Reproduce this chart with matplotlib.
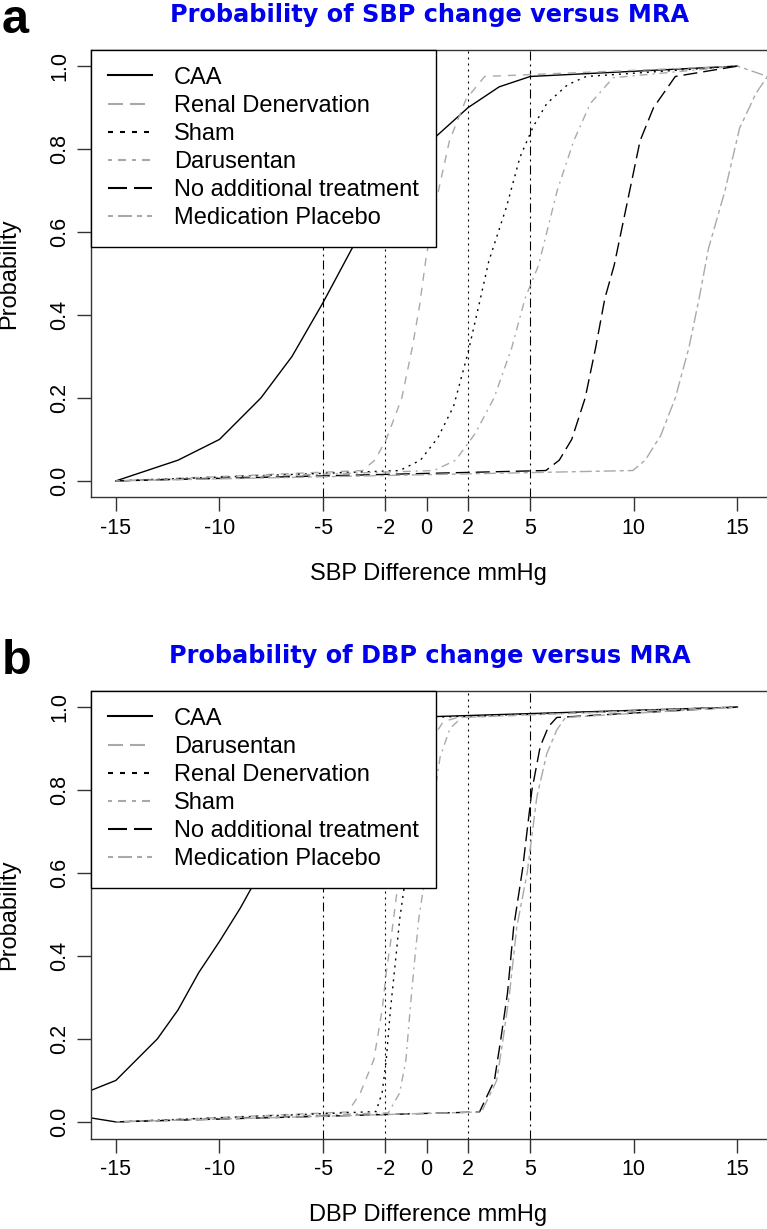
import matplotlib.pyplot as plt
from matplotlib.lines import Line2D

plt.rcParams['font.family'] = 'Liberation Sans'
plt.rcParams['lines.scale_dashes'] = False

# figure size in pixels (saved at 100 dpi)
W, H = 767, 1229

# ---------------- data ----------------
x_ticks = [-15, -10, -5, -2, 0, 2, 5, 10, 15]
y_ticks = [0.0, 0.2, 0.4, 0.6, 0.8, 1.0]
dotdash_refs = [-5, 5]
dotted_refs = [-2, 2]

sbp_title = "Probability of SBP change versus MRA"
dbp_title = "Probability of DBP change versus MRA"
sbp_names = ["CAA", "Renal Denervation", "Sham", "Darusentan",
             "No additional treatment", "Medication Placebo"]
dbp_names = ["CAA", "Darusentan", "Renal Denervation", "Sham",
             "No additional treatment", "Medication Placebo"]

# SBP panel
sbp_caa_x = [-15, -12, -10, -8, -6.5, -5, -3.5, -2, 0, 2, 3.5, 5, 15]
sbp_caa_y = [0, 0.05, 0.10, 0.20, 0.30, 0.43, 0.57, 0.70, 0.81, 0.90, 0.95, 0.975, 1.0]
sbp_renal_x = [-15, -3.1, -2.5, -1.95, -1.2, -0.7, -0.35, -0.05, 0.35, 1.1, 1.9, 2.8, 15]
sbp_renal_y = [0, 0.025, 0.05, 0.10, 0.20, 0.32, 0.42, 0.53, 0.65, 0.82, 0.92, 0.975, 1.0]
sbp_sham_x = [-15, -1.3, -0.3, 0.55, 1.3, 2.0, 2.55, 3.0, 3.85, 4.5, 5.15, 5.8, 6.8, 7.7, 15]
sbp_sham_y = [0, 0.025, 0.05, 0.105, 0.18, 0.31, 0.43, 0.53, 0.66, 0.78, 0.855, 0.91, 0.955, 0.975, 1.0]
sbp_daru_x = [-15, 0.35, 1.4, 2.35, 3.25, 4.1, 4.75, 5.4, 6.3, 7.1, 7.9, 9.0, 15]
sbp_daru_y = [0, 0.025, 0.05, 0.115, 0.20, 0.32, 0.44, 0.52, 0.70, 0.82, 0.91, 0.972, 1.0]
sbp_noadd_x = [-15, 5.75, 6.4, 7.0, 7.65, 8.15, 8.6, 9.05, 9.8, 10.3, 10.95, 12.0, 15]
sbp_noadd_y = [0, 0.025, 0.05, 0.10, 0.20, 0.32, 0.44, 0.52, 0.70, 0.82, 0.90, 0.975, 1.0]
sbp_plac_x = [-15, 9.95, 10.55, 11.3, 12.0, 12.65, 13.15, 13.6, 14.4, 15.1, 15.9, 16.45, 15]
sbp_plac_y = [0, 0.025, 0.05, 0.11, 0.20, 0.32, 0.44, 0.56, 0.70, 0.85, 0.935, 0.975, 1.0]

# DBP panel
dbp_caa_x = [-15, -17.5, -17.5, -15, -13, -12, -11, -10, -9, -8.5, -7, -5, -3, -1, 0.3, 15]
dbp_caa_y = [0, 0.02, 0.05, 0.10, 0.20, 0.27, 0.36, 0.435, 0.515, 0.56, 0.68, 0.82, 0.93, 0.97, 0.977, 1.0]
dbp_daru_x = [-15, -3.8, -3.2, -2.55, -2.15, -1.95, -1.75, -1.42, -0.9, -0.3, 0.33, 0.8, 1.5, 15]
dbp_daru_y = [0, 0.024, 0.07, 0.15, 0.27, 0.36, 0.43, 0.56, 0.75, 0.88, 0.928, 0.965, 0.975, 1.0]
dbp_renal_x = [-15, -2.45, -2.15, -1.95, -1.75, -1.5, -1.3, -1.1, -0.7, -0.3, 0.1, 15]
dbp_renal_y = [0, 0.025, 0.07, 0.15, 0.27, 0.39, 0.49, 0.56, 0.74, 0.89, 0.975, 1.0]
dbp_sham_x = [-15, -1.85, -1.3, -1.0, -0.8, -0.58, -0.38, -0.17, 0.33, 0.65, 1.13, 1.7, 15]
dbp_sham_y = [0, 0.022, 0.07, 0.15, 0.27, 0.39, 0.49, 0.56, 0.776, 0.88, 0.949, 0.975, 1.0]
dbp_noadd_x = [-15, 2.55, 3.27, 3.58, 3.9, 4.2, 4.63, 5.08, 5.48, 5.88, 6.28, 15]
dbp_noadd_y = [0, 0.024, 0.10, 0.20, 0.31, 0.47, 0.61, 0.80, 0.905, 0.953, 0.975, 1.0]
dbp_plac_x = [-15, 2.65, 3.38, 3.69, 4.0, 4.35, 4.85, 5.32, 5.8, 6.28, 6.7, 15]
dbp_plac_y = [0, 0.024, 0.10, 0.20, 0.31, 0.47, 0.60, 0.784, 0.888, 0.945, 0.975, 1.0]

sbp_series = [(sbp_caa_x, sbp_caa_y), (sbp_renal_x, sbp_renal_y), (sbp_sham_x, sbp_sham_y),
              (sbp_daru_x, sbp_daru_y), (sbp_noadd_x, sbp_noadd_y), (sbp_plac_x, sbp_plac_y)]
dbp_series = [(dbp_caa_x, dbp_caa_y), (dbp_daru_x, dbp_daru_y), (dbp_renal_x, dbp_renal_y),
              (dbp_sham_x, dbp_sham_y), (dbp_noadd_x, dbp_noadd_y), (dbp_plac_x, dbp_plac_y)]

# ---------------- styles (R lty 1..6) ----------------
PT = 0.72  # points per pixel at 100 dpi
GRAY = '#a9a9a9'


def dash(*px):
    return (0, tuple(p * PT for p in px))


colors = ['black', GRAY, 'black', GRAY, 'black', GRAY]
plot_ls = ['solid', dash(8, 7), dash(2, 5), dash(2, 5, 8, 5), dash(14, 6), dash(4, 4, 12, 4)]
legend_ls = ['solid', dash(15, 7), dash(5, 7), dash(4, 6, 8, 6), dash(19, 7), dash(5, 5, 14, 5)]


def fx(px):
    return px / W


def fy(py):
    return 1 - py / H


fig = plt.figure(figsize=(W / 100, H / 100), dpi=100)


def panel(top, letter, title, xlabel, names, series):
    # axes box in pixels: left 91, right 770 (just outside figure), height 448
    ax = fig.add_axes([fx(91), fy(top + 448), (770 - 91) / W, 448 / H])
    ax.set_xlim(-16.2, 16.57)
    ax.set_ylim(-0.04, 1.04)

    for v in dotdash_refs:
        ax.axvline(v, color='black', lw=0.8, linestyle=dash(9, 4, 2, 4))
    for v in dotted_refs:
        ax.axvline(v, color='black', lw=0.8, linestyle=dash(2, 4))

    for (xs, ys), c, ls in zip(series, colors, plot_ls):
        ax.plot(xs, ys, color=c, lw=1.0, linestyle=ls)

    ax.set_xticks(x_ticks)
    ax.set_xticklabels([str(t) for t in x_ticks])
    ax.set_yticks(y_ticks)
    ax.set_yticklabels(['%.1f' % t for t in y_ticks])
    for lbl in ax.get_yticklabels():
        lbl.set_rotation(90)
        lbl.set_va('center')
    ax.tick_params(length=10, width=1.0, color='#333333', pad=5, labelsize=15.5)
    for sp in ax.spines.values():
        sp.set_color('#333333')
        sp.set_linewidth(1.0)

    handles = [Line2D([], [], color=c, lw=1.5, linestyle=ls) for c, ls in zip(colors, legend_ls)]
    leg = ax.legend(handles, names, loc='upper left', bbox_to_anchor=(0, 1), borderaxespad=0,
                    fancybox=False, framealpha=1, edgecolor='black', fontsize=17,
                    handlelength=1.87, handletextpad=0.92, borderpad=0.73, labelspacing=0.26)
    leg.get_frame().set_linewidth(1.0)

    off = top - 49.5
    fig.text(fx(1.5), fy(33 + off), letter, fontsize=35, fontweight='bold', va='baseline', ha='left')
    fig.text(fx(430), fy(22 + off), title, fontsize=17.3, fontweight='bold', color='#0000ee',
             family='DejaVu Sans', ha='center', va='baseline')
    fig.text(fx(428), fy(580 + off), xlabel, fontsize=17, ha='center', va='baseline')
    fig.text(fx(9), fy(273.5 + off), 'Probability', fontsize=17, rotation=90, ha='center', va='center')
    return ax


panel(49.5, 'a', sbp_title, 'SBP Difference mmHg', sbp_names, sbp_series)
panel(690.5, 'b', dbp_title, 'DBP Difference mmHg', dbp_names, dbp_series)

fig.savefig('out.png', dpi=100)
